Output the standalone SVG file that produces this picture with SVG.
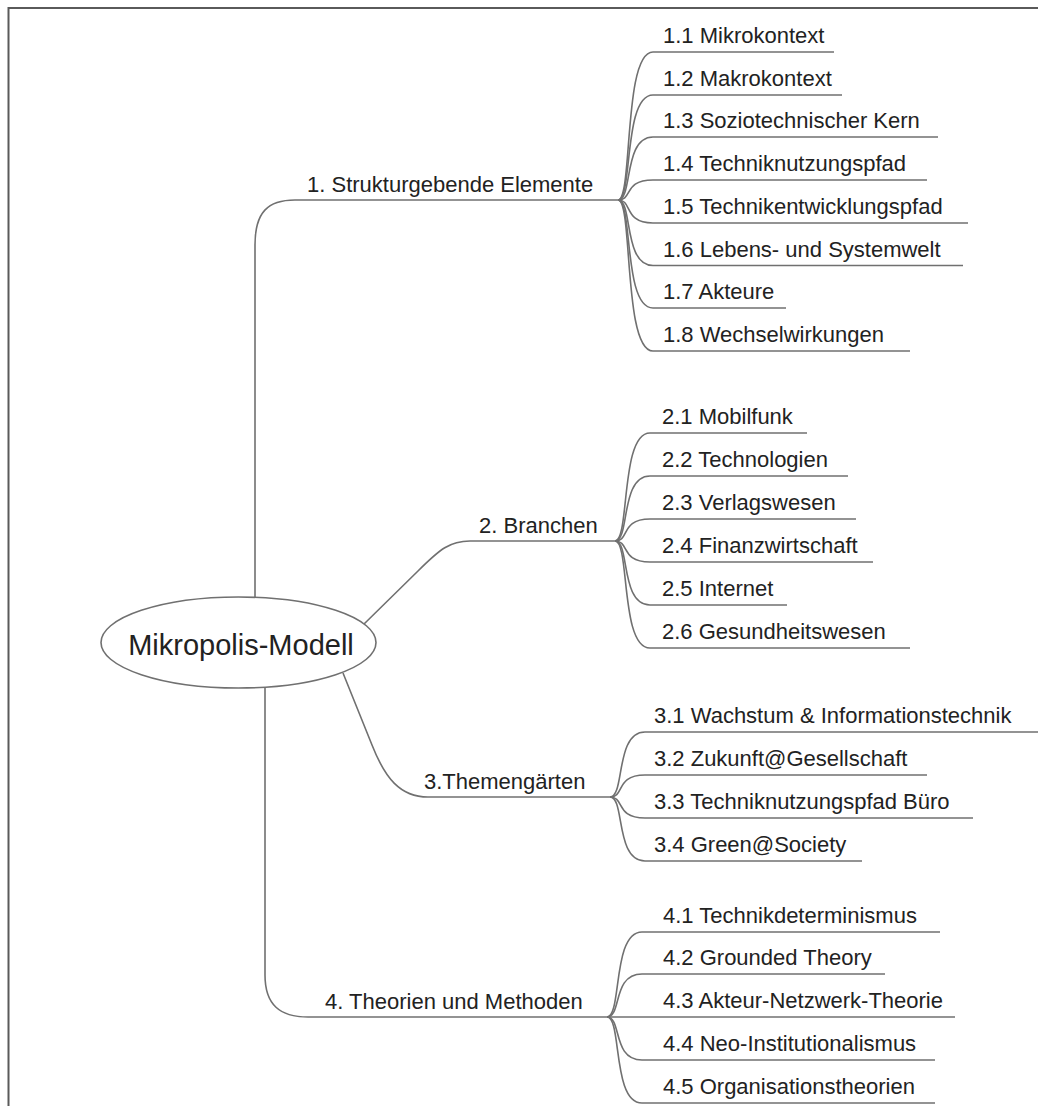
<svg xmlns="http://www.w3.org/2000/svg" width="1038" height="1106" viewBox="0 0 1038 1106">
<style>
text{font-family:"Liberation Sans",Arial,sans-serif;fill:#222;}
.leaf{font-size:22px;}
.br{font-size:22px;}
.root{font-size:29px;text-anchor:middle;}
.c{fill:none;stroke:#707070;stroke-width:1.6;}
.u{fill:none;stroke:#666;stroke-width:1.6;}
</style>
<rect width="1038" height="1106" fill="#fff"/>
<path d="M8.5,1106 L8.5,8 L1038,8" fill="none" stroke="#5a5a5a" stroke-width="2"/>
<g id="connectors">
<path class="c" d="M255,597 L255,245 C255,212 268,200 295,200 L618,200"/>
<path class="c" d="M363,625 L418,571 C440,549 450,541 470,541 L615,541"/>
<path class="c" d="M343,673 L372,745 C385,778 400,797 428,797 L610,797"/>
<path class="c" d="M265,687 L265,975 C265,1005 280,1017 308,1017 L607,1017"/>
<g id="c1">
<path class="c" d="M618,200 C633,200 623,52 653,52 L834,52"/>
<path class="c" d="M618,200 C633,200 623,95 653,95 L842,95"/>
<path class="c" d="M618,200 C633,200 623,137 653,137 L938,137"/>
<path class="c" d="M618,200 C633,200 623,180 653,180 L927,180"/>
<path class="c" d="M618,200 C633,200 623,223 653,223 L968,223"/>
<path class="c" d="M618,200 C633,200 623,265.5 653,265.5 L963,265.5"/>
<path class="c" d="M618,200 C633,200 623,308 653,308 L786,308"/>
<path class="c" d="M618,200 C633,200 623,351 653,351 L910,351"/>
</g>
<g id="c2">
<path class="c" d="M615,541 C630,541 620,433 650,433 L807,433"/>
<path class="c" d="M615,541 C630,541 620,476 650,476 L848,476"/>
<path class="c" d="M615,541 C630,541 620,519 650,519 L856,519"/>
<path class="c" d="M615,541 C630,541 620,562 650,562 L873,562"/>
<path class="c" d="M615,541 C630,541 620,605 650,605 L787,605"/>
<path class="c" d="M615,541 C630,541 620,648 650,648 L910,648"/>
</g>
<g id="c3">
<path class="c" d="M610,797 C625,797 615,732 645,732 L1040,732"/>
<path class="c" d="M610,797 C625,797 615,775 645,775 L927,775"/>
<path class="c" d="M610,797 C625,797 615,818 645,818 L973,818"/>
<path class="c" d="M610,797 C625,797 615,861 645,861 L862,861"/>
</g>
<g id="c4">
<path class="c" d="M607,1017 C622,1017 612,932 642,932 L940,932"/>
<path class="c" d="M607,1017 C622,1017 612,974 642,974 L885,974"/>
<path class="c" d="M607,1017 L955,1017"/>
<path class="c" d="M607,1017 C622,1017 612,1060 642,1060 L935,1060"/>
<path class="c" d="M607,1017 C622,1017 612,1103 642,1103 L935,1103"/>
</g>
</g>
<g id="root">
<ellipse cx="238.5" cy="642.5" rx="137.5" ry="45.5" fill="#fff" stroke="#707070" stroke-width="1.6"/>
<text class="root" x="241" y="655">Mikropolis-Modell</text>
</g>
<g id="b1"><text class="br" x="307" y="192">1. Strukturgebende Elemente</text></g>
<g id="b2"><text class="br" x="479" y="533">2. Branchen</text></g>
<g id="b3"><text class="br" x="424" y="789">3.Themengärten</text></g>
<g id="b4"><text class="br" x="325" y="1009">4. Theorien und Methoden</text></g>
<g id="n1-1"><text class="leaf" x="663" y="43">1.1 Mikrokontext</text></g>
<g id="n1-2"><text class="leaf" x="663" y="86">1.2 Makrokontext</text></g>
<g id="n1-3"><text class="leaf" x="663" y="128">1.3 Soziotechnischer Kern</text></g>
<g id="n1-4"><text class="leaf" x="663" y="171">1.4 Techniknutzungspfad</text></g>
<g id="n1-5"><text class="leaf" x="663" y="214">1.5 Technikentwicklungspfad</text></g>
<g id="n1-6"><text class="leaf" x="663" y="256.5">1.6 Lebens- und Systemwelt</text></g>
<g id="n1-7"><text class="leaf" x="663" y="299">1.7 Akteure</text></g>
<g id="n1-8"><text class="leaf" x="663" y="342">1.8 Wechselwirkungen</text></g>
<g id="n2-1"><text class="leaf" x="662" y="424">2.1 Mobilfunk</text></g>
<g id="n2-2"><text class="leaf" x="662" y="467">2.2 Technologien</text></g>
<g id="n2-3"><text class="leaf" x="662" y="510">2.3 Verlagswesen</text></g>
<g id="n2-4"><text class="leaf" x="662" y="553">2.4 Finanzwirtschaft</text></g>
<g id="n2-5"><text class="leaf" x="662" y="596">2.5 Internet</text></g>
<g id="n2-6"><text class="leaf" x="662" y="639">2.6 Gesundheitswesen</text></g>
<g id="n3-1"><text class="leaf" x="654" y="723">3.1 Wachstum &amp; Informationstechnik</text></g>
<g id="n3-2"><text class="leaf" x="654" y="766">3.2 Zukunft@Gesellschaft</text></g>
<g id="n3-3"><text class="leaf" x="654" y="809">3.3 Techniknutzungspfad Büro</text></g>
<g id="n3-4"><text class="leaf" x="654" y="852">3.4 Green@Society</text></g>
<g id="n4-1"><text class="leaf" x="663" y="923">4.1 Technikdeterminismus</text></g>
<g id="n4-2"><text class="leaf" x="663" y="965">4.2 Grounded Theory</text></g>
<g id="n4-3"><text class="leaf" x="663" y="1008">4.3 Akteur-Netzwerk-Theorie</text></g>
<g id="n4-4"><text class="leaf" x="663" y="1051">4.4 Neo-Institutionalismus</text></g>
<g id="n4-5"><text class="leaf" x="663" y="1094">4.5 Organisationstheorien</text></g>
</svg>
